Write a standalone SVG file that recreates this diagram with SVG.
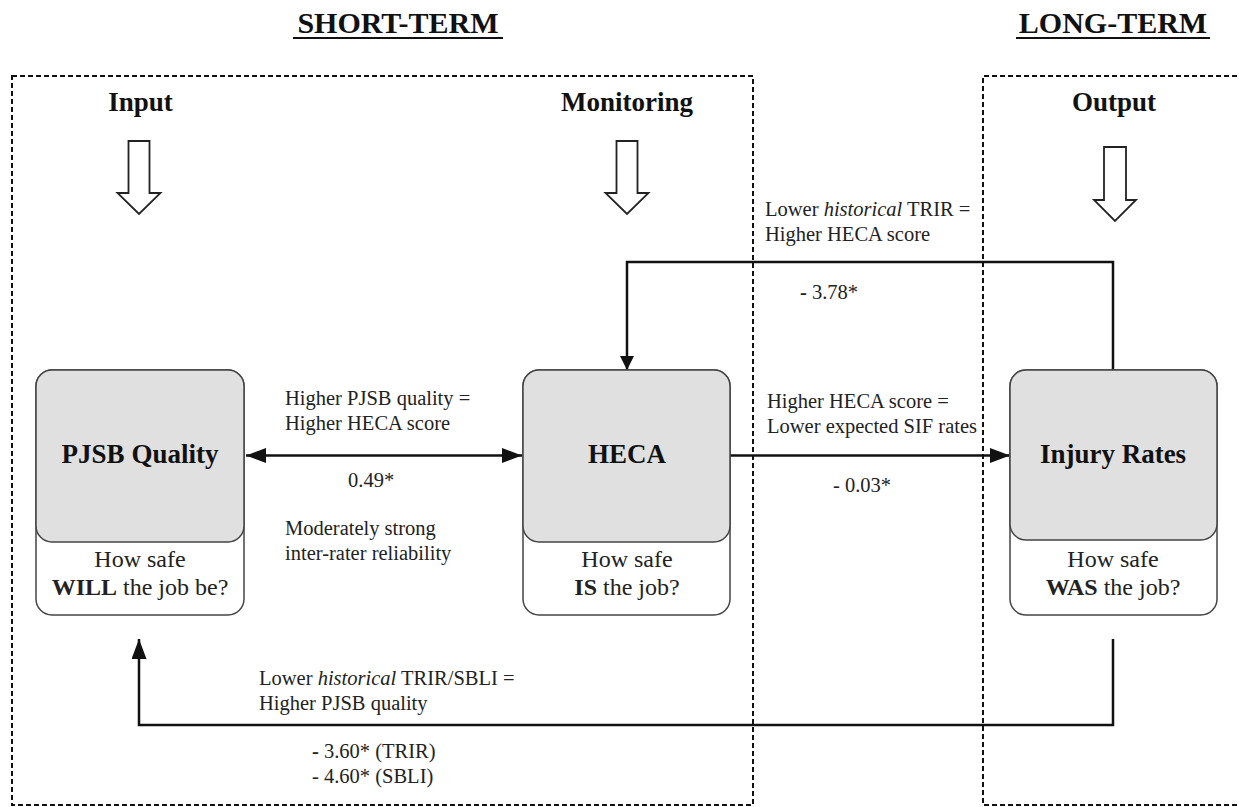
<svg xmlns="http://www.w3.org/2000/svg" width="1239" height="807" viewBox="0 0 1239 807">
<style>
.title{font-family:"Liberation Serif",serif;font-weight:bold;font-size:30px;fill:#111;text-anchor:middle}
.head{font-family:"Liberation Serif",serif;font-weight:bold;font-size:27px;fill:#111;text-anchor:middle}
.ntitle{font-family:"Liberation Serif",serif;font-weight:bold;font-size:27px;fill:#111;text-anchor:middle}
.sub{font-family:"Liberation Serif",serif;font-size:24px;fill:#222;text-anchor:middle}
.lbl{font-family:"Liberation Serif",serif;font-size:20.5px;fill:#222}
.zone{fill:none;stroke:#111;stroke-width:2;stroke-dasharray:5 3}
.outer{fill:#fff;stroke:#444;stroke-width:1.5}
.inner{fill:#e0e0e0;stroke:#444;stroke-width:1.5}
.blk{fill:#fff;stroke:#222;stroke-width:1.8}
.conn{fill:none;stroke:#111;stroke-width:2.5}
.ul{stroke:#111;stroke-width:2}
</style>
<defs>
<marker id="ah" markerUnits="userSpaceOnUse" markerWidth="20" markerHeight="15" refX="20" refY="7.5" orient="auto-start-reverse">
<path d="M0,0 L20,7.5 L0,15 z" fill="#111"/>
</marker>
<marker id="ahs" markerUnits="userSpaceOnUse" markerWidth="14" markerHeight="14" refX="14" refY="7" orient="auto">
<path d="M0,0 L14,7 L0,14 z" fill="#111"/>
</marker>
</defs>

<g id="titles">
<text class="title" x="398" y="33">SHORT-TERM</text>
<line class="ul" x1="293" y1="38" x2="503" y2="38"/>
<text class="title" x="1113" y="33">LONG-TERM</text>
<line class="ul" x1="1016" y1="38" x2="1210" y2="38"/>
</g>

<g id="zones">
<rect class="zone" x="12" y="76" width="741" height="729"/>
<path class="zone" d="M1245,76 H983 V805 H1245"/>
</g>

<g id="stage-input">
<text class="head" x="140.5" y="111">Input</text>
<path class="blk" d="M128.5,141 H149.5 V193 H160.5 L139,214 L117.5,193 H128.5 Z"/>
</g>
<g id="stage-monitoring">
<text class="head" x="627" y="111">Monitoring</text>
<path class="blk" d="M616.5,141 H637.5 V193 H648.5 L627,214 L605.5,193 H616.5 Z"/>
</g>
<g id="stage-output">
<text class="head" x="1114" y="111">Output</text>
<path class="blk" d="M1104,147 H1126 V200 H1136 L1115,221 L1094,200 H1104 Z"/>
</g>

<g id="connectors">
<line class="conn" x1="246" y1="455.5" x2="522" y2="455.5" marker-start="url(#ah)" marker-end="url(#ah)"/>
<line class="conn" x1="730" y1="455.5" x2="1010" y2="455.5" marker-end="url(#ah)"/>
<path class="conn" d="M1113,370 V262 H627 V370" marker-end="url(#ahs)"/>
<path class="conn" d="M1113,639 V725 H139 V639" marker-end="url(#ah)"/>
</g>

<g id="node-pjsb">
<rect class="outer" x="36" y="370" width="208" height="245" rx="16"/>
<rect class="inner" x="36" y="370" width="208" height="172" rx="16"/>
<text class="ntitle" x="140" y="463">PJSB Quality</text>
<text class="sub" x="140" y="567">How safe</text>
<text class="sub" x="140" y="595"><tspan font-weight="bold">WILL</tspan> the job be?</text>
</g>

<g id="node-heca">
<rect class="outer" x="523" y="370" width="207" height="245" rx="16"/>
<rect class="inner" x="523" y="370" width="207" height="172" rx="16"/>
<text class="ntitle" x="627" y="463">HECA</text>
<text class="sub" x="627" y="567">How safe</text>
<text class="sub" x="627" y="595"><tspan font-weight="bold">IS</tspan> the job?</text>
</g>

<g id="node-injury">
<rect class="outer" x="1010" y="370" width="207" height="245" rx="16"/>
<rect class="inner" x="1010" y="370" width="207" height="170" rx="16"/>
<text class="ntitle" x="1113" y="463">Injury Rates</text>
<text class="sub" x="1113" y="567">How safe</text>
<text class="sub" x="1113" y="595"><tspan font-weight="bold">WAS</tspan> the job?</text>
</g>

<g id="labels">
<text class="lbl" x="765" y="216">Lower <tspan font-style="italic">historical</tspan> TRIR =</text>
<text class="lbl" x="765" y="241">Higher HECA score</text>
<text class="lbl" x="800" y="299"><tspan font-weight="bold">-</tspan> 3.78*</text>

<text class="lbl" x="285" y="405">Higher PJSB quality =</text>
<text class="lbl" x="285" y="430">Higher HECA score</text>
<text class="lbl" x="348" y="487">0.49*</text>
<text class="lbl" x="285" y="535">Moderately strong</text>
<text class="lbl" x="285" y="560">inter-rater reliability</text>

<text class="lbl" x="767" y="408">Higher HECA score =</text>
<text class="lbl" x="767" y="433">Lower expected SIF rates</text>
<text class="lbl" x="833" y="492">- 0.03*</text>

<text class="lbl" x="259" y="685">Lower <tspan font-style="italic">historical</tspan> TRIR/SBLI =</text>
<text class="lbl" x="259" y="710">Higher PJSB quality</text>
<text class="lbl" x="312" y="758"><tspan font-weight="bold">-</tspan> 3.60* (TRIR)</text>
<text class="lbl" x="312" y="783">- 4.60* (SBLI)</text>
</g>
</svg>
